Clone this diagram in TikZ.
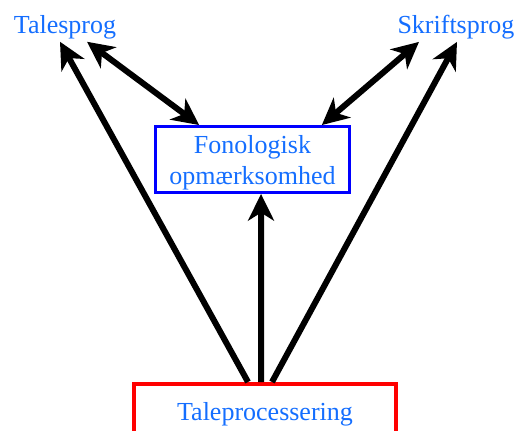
\documentclass[tikz,border=0pt]{standalone}
\usepackage{fontspec}
\setmainfont{Liberation Serif}
\usetikzlibrary{arrows.meta}
\definecolor{lblblue}{RGB}{20,110,255}
\tikzset{
  lbl/.style={text=lblblue, font=\fontsize{19.5}{23.3}\selectfont, inner sep=2pt, align=center},
  arr/.style={line width=4.5pt, -{Stealth[length=20pt,width=19.5pt,inset=6pt]}},
  dblarr/.style={line width=4.5pt, {Stealth[length=20pt,width=19.5pt,inset=6pt]}-{Stealth[length=20pt,width=19.5pt,inset=6pt]}}
}
\begin{document}
\begin{tikzpicture}[x=0.75pt,y=0.75pt,yscale=-1,xscale=1]
\clip (0,0) rectangle (519,430);

%Text Node
\node [lbl] (tale) at (65,27) {Talesprog};
%Text Node
\node [lbl] (skrift) at (456,27) {Skriftsprog};
%Shape: Rectangle
\node [lbl, draw=blue, line width=2.25pt, minimum width=146pt, minimum height=49pt] (fon) at (252.5,159.5) {\rule{0pt}{18pt}Fonologisk\\opmærksomhed};
%Shape: Rectangle
\node [lbl, draw=red, line width=3pt, minimum width=196pt, minimum height=45pt] (proc) at (265,414) {Taleprocessering};

%Straight Lines
\draw [arr] ([xshift=-12.75pt]proc.north) -- ([xshift=-3.75pt]tale.south) ;
\draw [arr] ([xshift=-3pt]proc.north) -- ([xshift=6.4pt]fon.south) ;
\draw [arr] ([xshift=5.25pt]proc.north) -- ([xshift=0.75pt]skrift.south) ;
%Straight Lines
\draw [dblarr] ([xshift=16.5pt]tale.south) -- ([xshift=-40pt]fon.north) ;
\draw [dblarr] ([xshift=-27.75pt]skrift.south) -- ([xshift=52pt]fon.north) ;

\end{tikzpicture}
\end{document}
